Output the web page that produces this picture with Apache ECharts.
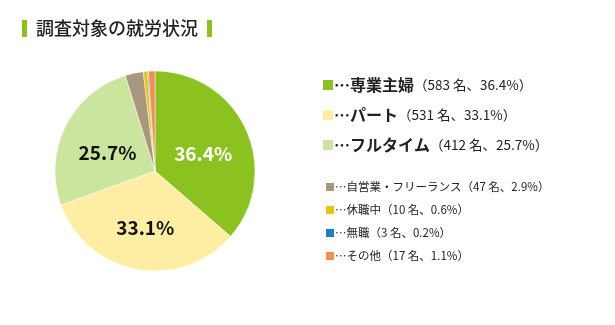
<!DOCTYPE html>
<html><head><meta charset="utf-8">
<script src="https://cdn.jsdelivr.net/npm/echarts@6/dist/echarts.min.js"></script>
<style>html,body{margin:0;padding:0;background:#fff}#c{width:615px;height:325px}</style>
</head><body><div id="c"></div>
<script>
const title = '調査対象の就労状況';
const categories = ['専業主婦','パート','フルタイム','自営業・フリーランス','休職中','無職','その他'];
const counts = [583, 531, 412, 47, 10, 3, 17];
const percents = ['36.4','33.1','25.7','2.9','0.6','0.2','1.1'];
const colors = ['#8cc21f','#fdeea3','#cbe59e','#a8977e','#e5c600','#1b7fc2','#f38d58'];
const majorCount = 3;

const font = '"Noto Sans CJK JP", "Noto Sans", sans-serif';
const chart = echarts.init(document.getElementById('c'), null, {renderer:'canvas'});
const pctMap = {}; const cntMap = {};
categories.forEach((c,i)=>{pctMap[c]=percents[i]; cntMap[c]=counts[i];});

chart.setOption({
  animation:false,
  backgroundColor:'#fff',
  color: colors,
  graphic:[
    {type:'rect', left:22, top:20, shape:{width:5, height:17}, style:{fill:'#8cc21f'}},
    {type:'text', left:36, top:19, style:{text:title, font:'500 18px '+font, fill:'#222'}},
    {type:'rect', left:207, top:20, shape:{width:5, height:17}, style:{fill:'#8cc21f'}}
  ],
  legend:[
    {
      data: categories.slice(0, majorCount),
      orient:'vertical', left:316, top:72,
      itemWidth:12, itemHeight:12, itemGap:14, icon:'rect',
      selectedMode:false,
      formatter: n => `{a|…${n}}{b|（${cntMap[n]} 名、${pctMap[n]}%）}`,
      textStyle:{padding:[0,0,0,-5], rich:{
        a:{fontSize:16, fontWeight:'bold', fontFamily:font, color:'#222', lineHeight:22},
        b:{fontSize:13.5, fontFamily:font, color:'#222', lineHeight:22}
      }}
    },
    {
      data: categories.slice(majorCount),
      orient:'vertical', left:319, top:176,
      itemWidth:10, itemHeight:10, itemGap:11, icon:'rect',
      selectedMode:false,
      formatter: n => `{a|…${n}（${cntMap[n]} 名、${pctMap[n]}%）}`,
      textStyle:{padding:[0,0,0,-5], rich:{
        a:{fontSize:11.5, fontFamily:font, color:'#222', lineHeight:16}
      }}
    }
  ],
  series:[{
    type:'pie',
    center:[155,171], radius:[0,100],
    startAngle:90, clockwise:true,
    itemStyle:{borderColor:'#fff', borderWidth:0.5},
    label:{
      show:true, position:'inside', offset:[0,5],
      formatter: p => p.dataIndex < majorCount ? percents[p.dataIndex] + '%' : '',
      fontSize:19, fontWeight:'bold', fontFamily:font, color:'#111'
    },
    labelLine:{show:false},
    data: categories.map((c,i)=>({
      name:c, value:counts[i],
      label: i===0 ? {color:'#fff'} : undefined
    }))
  }]
});
</script></body></html>
